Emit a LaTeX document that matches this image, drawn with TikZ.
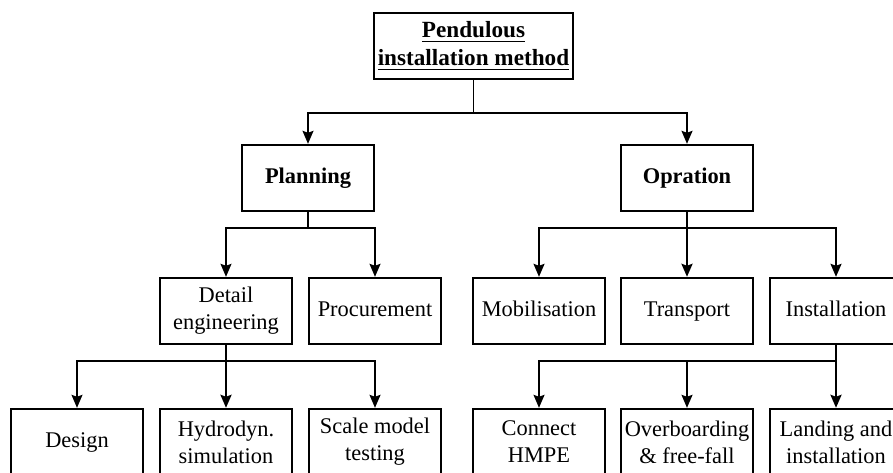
\documentclass[tikz,border=0pt]{standalone}
\usepackage{fontspec}
\setmainfont{Liberation Serif}
\usetikzlibrary{arrows.meta}
\begin{document}
\begin{tikzpicture}
[x=0.5pt,y=-0.5pt,
  boxDecorate/.style={shape=rectangle,draw,line width=1.2pt,align=center,
    minimum width=66pt,minimum height=33pt,inner sep=1pt,
    font=\fontsize{11.2}{13.5}\selectfont},%
  lineDecorate/.style={-{Stealth[length=6.5pt,width=5.5pt,inset=1pt]},line width=0.75pt},%
  boldLine/.style={line width=1.2pt}]
\useasboundingbox (0,0) rectangle (893,472);
\clip (0,0) rectangle (893,472);
%% nodes or boxes
\node (root) at (473.5,46) [boxDecorate,minimum width=99.5pt,font=\fontsize{11.6}{14}\selectfont\bfseries]
  {\underline{Pendulous}\\\underline{installation method}};
\foreach \nodename/\x/\y/\nodetext in {
  plan/308/178/Planning, opr/687/178/Opration}
{
  \node (\nodename) at (\x,\y) [boxDecorate,font=\fontsize{11.2}{13.5}\selectfont\bfseries] {\strut\nodetext};
}
\foreach \nodename/\x/\y/\nodetext in {
  procure/375/311/Procurement, mobil/539/311/Mobilisation,
  transp/687/311/Transport, install/836/311/Installation, design/77/442/Design}
{
  \node (\nodename) at (\x,\y) [boxDecorate] {\strut\nodetext};
}
\foreach \nodename/\x/\y/\nodetext in {
  detail/226/311/{Detail\\engineering}, hydro/226/442/{Hydrodyn.\\simulation},
  scale/375/442/{Scale model\\testing}, connect/539/442/{Connect\\HMPE},
  overb/687/442/{Overboarding\\\& free-fall}, landing/836/442/{Landing and\\installation}}
{
  \node (\nodename) at (\x,\y) [boxDecorate] {\nodetext};
}
%% edges or lines
\foreach \startnode/\endnode/\fork in {
  root/plan/33, root/opr/33,
  plan/detail/16, plan/procure/16,
  opr/mobil/16, opr/install/16,
  detail/design/16, detail/scale/16,
  install/connect/16, install/overb/16}
{
  \draw[lineDecorate] (\startnode.south) -- ++(0,\fork) -| (\endnode.north);
}
\foreach \startnode/\endnode in {
  opr/transp, detail/hydro, install/landing}
{
  \draw[lineDecorate,boldLine] (\startnode.south) -- (\endnode.north);
}
\end{tikzpicture}
\end{document}
